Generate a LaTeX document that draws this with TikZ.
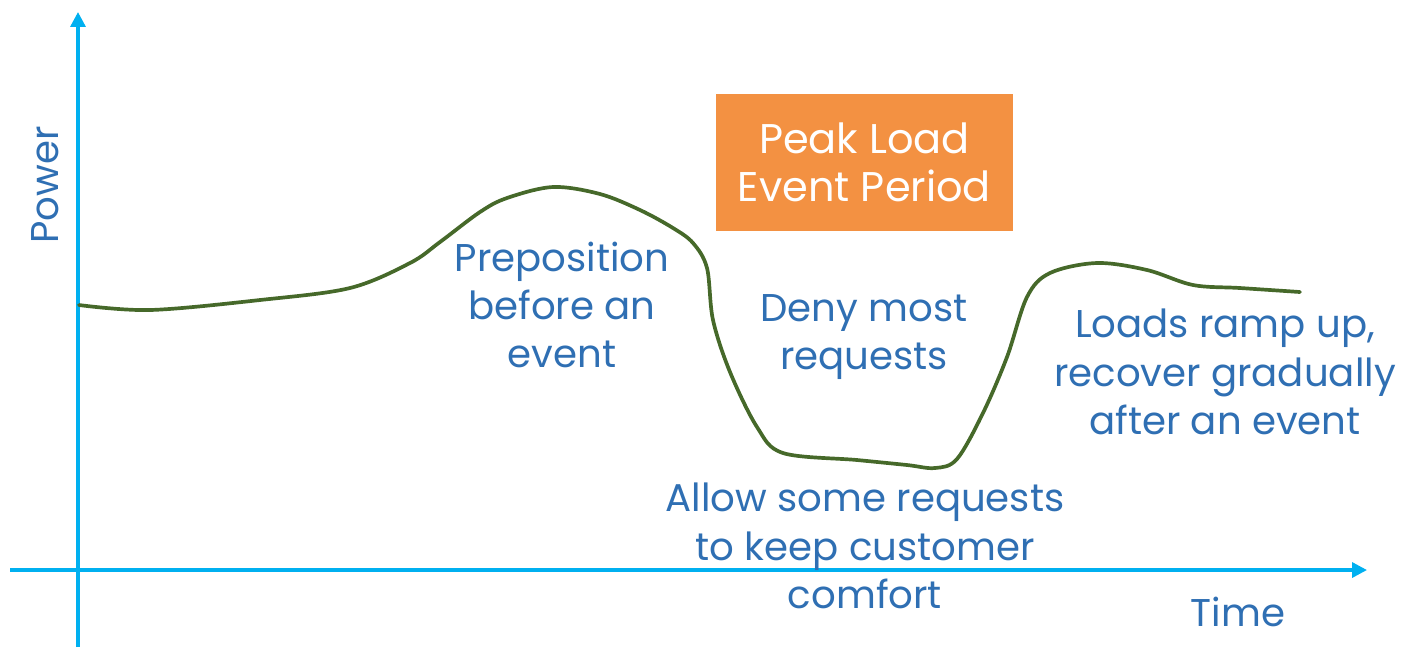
\documentclass[tikz,border=0pt]{standalone}
\usepackage{fontspec}
\setmainfont{Poppins}
\usepackage{tikz}
\usetikzlibrary{arrows.meta}
\definecolor{axisblue}{HTML}{00B0F0}
\definecolor{labelblue}{HTML}{2F6FB3}
\definecolor{loadgreen}{HTML}{46692A}
\definecolor{peakorange}{HTML}{F39142}
\tikzset{
  axisline/.style={draw=axisblue, line width=0.95pt, -{Triangle[length=4.2pt,width=4.2pt]}},
  loadline/.style={draw=loadgreen, line width=1.05pt, line cap=round},
  lab/.style={text=labelblue, font=\fontsize{11}{13.7}\selectfont, align=center, inner sep=0pt},
  peakbox/.style={fill=peakorange, text=white, font=\fontsize{11.8}{13.5}\selectfont, align=center,
    minimum width=2.97cm, minimum height=1.37cm, inner sep=0pt},
}
\begin{document}
\begin{tikzpicture}[x=0.01cm, y=-0.01cm]
  \useasboundingbox (0,0) rectangle (1408,647);
  % axes
  \coordinate (ybot) at (78,647);
  \coordinate (ytop) at (78,12);
  \coordinate (xleft) at (10,570);
  \coordinate (xright) at (1367,570);
  \draw[axisline] (ybot) -- (ytop);
  \draw[axisline] (xleft) -- (xright);
  \node[lab, rotate=90] (power) at (45,185) {Power};
  \node[lab] (time) at (1238,612) {Time};
  % load curve
  \draw[loadline] plot[smooth, tension=0.55] coordinates {
    (79,305) (150,310) (260,300) (350,288) (410,263) (440,242) (480,212) (507,198)
    (553,187) (600,194) (640,210) (673,228) (693,243) (707,268) (713,320) (730,372)
    (757,427) (783,453) (857,460) (907,465) (935,468) (957,459) (983,413) (1007,357)
    (1027,297) (1050,273) (1097,263) (1147,270) (1193,285) (1240,288) (1300,292)};
  % event box and labels
  \node[peakbox] (peak) at (864.5,162.5) {Peak Load\\Event Period};
  \node[lab] (prepos) at (562,305) {Preposition\\before an\\event};
  \node[lab] (deny) at (864,337) {Deny most\\requests};
  \node[lab] (recover) at (1225,372) {Loads ramp up,\\recover gradually\\after an event};
  \node[lab] (allow) at (865,546) {Allow some requests\\to keep customer\\comfort};
\end{tikzpicture}
\end{document}
